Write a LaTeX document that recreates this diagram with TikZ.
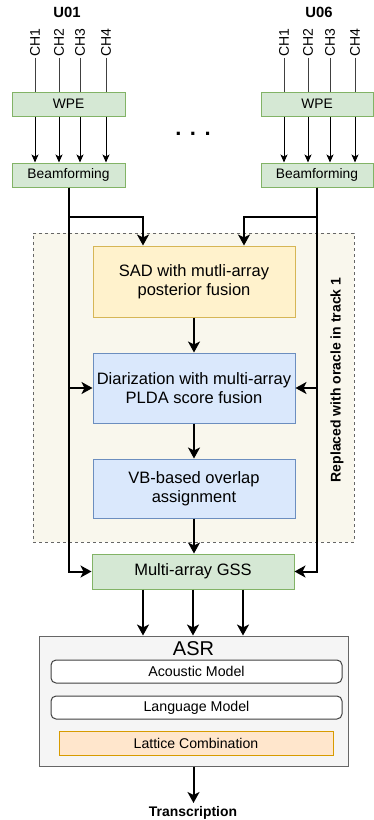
\documentclass[tikz,border=0pt]{standalone}
\usepackage{fontspec}
\setmainfont{Liberation Sans}
\usetikzlibrary{arrows.meta}
\definecolor{stagefill}{HTML}{D5E8D4}
\definecolor{stageline}{HTML}{82B366}
\definecolor{sadfill}{HTML}{FFF2CC}
\definecolor{sadline}{HTML}{D6B656}
\definecolor{diarfill}{HTML}{DAE8FC}
\definecolor{diarline}{HTML}{6C8EBF}
\definecolor{asrfill}{HTML}{F5F5F5}
\definecolor{asrline}{HTML}{666666}
\definecolor{latfill}{HTML}{FFE6CC}
\definecolor{latline}{HTML}{D79B00}
\definecolor{oraclefill}{HTML}{F9F7ED}
\begin{document}
\begin{tikzpicture}[x=1pt, y=-1pt,
    greenbox/.style={draw=stageline, fill=stagefill, line width=1pt, minimum width=113pt, minimum height=24pt, inner sep=0pt, font=\fontsize{13.8}{16}\selectfont},
    bigbox/.style={line width=1pt, minimum width=202pt, inner sep=0pt, align=center, font=\fontsize{16.5}{19}\selectfont},
    sadstyle/.style={draw=sadline, fill=sadfill},
    diarstyle/.style={draw=diarline, fill=diarfill},
    gssstyle/.style={draw=stageline, fill=stagefill},
    modelbox/.style={draw=black!75, fill=white, line width=1pt, rounded corners=5pt, minimum width=291pt, minimum height=23pt, inner sep=0pt, font=\fontsize{14.2}{16}\selectfont},
    unitlabel/.style={font=\bfseries\fontsize{14.8}{17}\selectfont},
    chlabel/.style={rotate=90, inner sep=1pt, font=\fontsize{14}{16}\selectfont},
    chline/.style={draw=black!75, line width=1pt},
    smallarrow/.style={line width=1pt, -{Stealth[length=8pt, width=7pt, inset=2pt]}},
    bigarrow/.style={line width=2pt, -{Stealth[length=11pt, width=12pt, inset=3pt]}}]
\useasboundingbox (0,0) rectangle (374,820);
% dashed region replaced by oracle
\node [draw=asrline, dashed, fill=oraclefill, line width=0.8pt, minimum width=321pt, minimum height=309pt] (oracle) at (193.5,387.5) {};
\node [font=\bfseries\fontsize{14}{16}\selectfont, rotate=90] (oraclelabel) at (337,380) {Replaced with oracle in track 1};
% arrays
\node [unitlabel] (u01) at (67,12) {U01};
\node [unitlabel] (u06) at (319,12) {U06};
\node [greenbox] (wpeL) at (68.5,104) {WPE};
\node [greenbox] (bfL) at (68.5,175) {Beamforming};
\node [greenbox, minimum width=112pt] (wpeR) at (317,104) {WPE};
\node [greenbox, minimum width=112pt] (bfR) at (317,175) {Beamforming};
\node [font=\bfseries\fontsize{22}{22}\selectfont] (dots) at (193,134) {.\hspace{8.5pt}.\hspace{8.5pt}.};
\foreach \x [count=\i] in {35,59,80,106} {
    \node [chlabel] (chL\i) at (\x,42.5) {CH\i};
    \draw [chline] (chL\i.west) -- (chL\i.west |- wpeL.north);
    \draw [smallarrow] (wpeL.south -| chL\i.west) -- (bfL.north -| chL\i.west);
}
\foreach \x [count=\i] in {284,308,330,355} {
    \node [chlabel] (chR\i) at (\x,42.5) {CH\i};
    \draw [chline] (chR\i.west) -- (chR\i.west |- wpeR.north);
    \draw [smallarrow] (wpeR.south -| chR\i.west) -- (bfR.north -| chR\i.west);
}
% processing chain
\node [bigbox, sadstyle, minimum height=71pt] (sad) at (194,281.5) {SAD with mutli-array\\posterior fusion};
\node [bigbox, diarstyle, minimum height=70pt] (diar) at (194,388) {Diarization with multi-array\\PLDA score fusion};
\node [bigbox, diarstyle, minimum height=59pt] (vb) at (194,488.5) {VB-based overlap\\assignment};
\node [bigbox, gssstyle, minimum height=35pt] (gss) at (193,571.5) {Multi-array GSS};
% ASR
\node [draw=asrline, fill=asrfill, line width=1pt, minimum width=309pt, minimum height=130pt] (asr) at (193.5,701) {};
\node [font=\fontsize{20}{22}\selectfont, inner sep=0pt] (asrtitle) at (193.5,649) {ASR};
\node [modelbox] (am) at (196.5,671.5) {Acoustic Model};
\node [modelbox] (lm) at (196.5,707.5) {Language Model};
\node [draw=latline, fill=latfill, line width=1pt, minimum width=274pt, minimum height=24pt, inner sep=0pt, font=\fontsize{14.1}{16}\selectfont] (lat) at (196,743) {Lattice Combination};
\node [font=\bfseries\fontsize{13.9}{16}\selectfont] (trans) at (193,813) {Transcription};
% connectors
\draw [bigarrow] (bfL.south) -- ++(0,29) -| ([xshift=-51pt]sad.north);
\draw [bigarrow] (bfR.south) -- ++(0,29) -| ([xshift=50pt]sad.north);
\draw [bigarrow] (bfL.south) |- (diar.west);
\draw [bigarrow] (bfL.south) |- (gss.west);
\draw [bigarrow] (bfR.south) |- (diar.east);
\draw [bigarrow] (bfR.south) |- (gss.east);
\draw [bigarrow] (sad) -- (diar);
\draw [bigarrow] (diar) -- (vb);
\draw [bigarrow] (vb.south) -- (vb.south |- gss.north);
\foreach \dx in {-50,0,50}
    \draw [bigarrow] ([xshift=\dx pt]gss.south) -- ([xshift=\dx pt]gss.south |- asr.north);
\draw [bigarrow] (asr.south) -- (asr.south |- trans.north);
\end{tikzpicture}
\end{document}
